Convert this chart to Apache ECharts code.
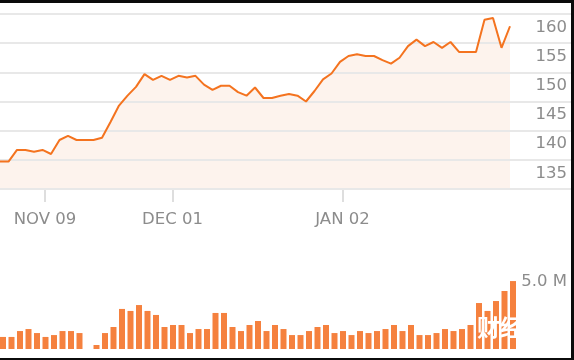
<!DOCTYPE html>
<html>
<head>
<meta charset="utf-8">
<script src="https://cdn.jsdelivr.net/npm/echarts@6/dist/echarts.min.js"></script>
<style>
html,body{margin:0;padding:0;background:#fff;}
#chart{width:574px;height:360px;}
</style>
</head>
<body>
<div id="chart"></div>
<script>
// Trading days shown on the chart
var dates = [
  '2023-11-02','2023-11-03','2023-11-06','2023-11-07','2023-11-08','2023-11-09','2023-11-10',
  '2023-11-13','2023-11-14','2023-11-15','2023-11-16','2023-11-17','2023-11-20','2023-11-21',
  '2023-11-22','2023-11-24','2023-11-27','2023-11-28','2023-11-29','2023-11-30','2023-12-01',
  '2023-12-04','2023-12-05','2023-12-06','2023-12-07','2023-12-08','2023-12-11','2023-12-12',
  '2023-12-13','2023-12-14','2023-12-15','2023-12-18','2023-12-19','2023-12-20','2023-12-21',
  '2023-12-22','2023-12-26','2023-12-27','2023-12-28','2023-12-29','2024-01-02','2024-01-03',
  '2024-01-04','2024-01-05','2024-01-08','2024-01-09','2024-01-10','2024-01-11','2024-01-12',
  '2024-01-16','2024-01-17','2024-01-18','2024-01-19','2024-01-22','2024-01-23','2024-01-24',
  '2024-01-25','2024-01-26','2024-01-29','2024-01-30','2024-01-31'
];
// Closing price
var prices = [
  134.7,134.7,136.7,136.7,136.4,136.7,136.0,138.4,139.1,138.4,
  138.4,138.4,138.8,141.5,144.3,146.0,147.5,149.7,148.7,149.4,
  148.7,149.4,149.1,149.4,147.9,147.0,147.7,147.7,146.6,146.0,
  147.4,145.6,145.6,146.0,146.3,146.0,145.0,146.8,148.8,149.8,
  151.8,152.8,153.1,152.8,152.8,152.1,151.5,152.5,154.5,155.6,
  154.5,155.2,154.2,155.2,153.5,153.5,153.5,159.0,159.3,154.2,
  157.9
];
// Volume, millions of shares
var volumes = [
  0.90,0.90,1.34,1.49,1.19,0.90,1.04,1.34,1.34,1.19,
  null,0.30,1.19,1.64,2.99,2.84,3.28,2.84,2.54,1.64,
  1.79,1.79,1.19,1.49,1.49,2.69,2.69,1.64,1.34,1.79,
  2.09,1.34,1.79,1.49,1.04,1.04,1.34,1.64,1.79,1.19,
  1.34,1.04,1.34,1.19,1.34,1.49,1.79,1.34,1.79,1.04,
  1.04,1.19,1.49,1.34,1.49,1.79,3.43,2.84,3.58,4.33,
  5.07
];
var tickDates = ['2023-11-09','2023-12-01','2024-01-02'];
var priceTicks = [130, 135, 140, 145, 150, 155, 160];
var volumeTick = 5.0;
var monthNames = ['JAN','FEB','MAR','APR','MAY','JUN','JUL','AUG','SEP','OCT','NOV','DEC'];

var FONT = 'DejaVu Sans';
var GRAY = '#8c8c8c';
var isTick = function (idx, val) { return tickDates.indexOf(val) >= 0; };

var chart = echarts.init(document.getElementById('chart'), null, {renderer: 'canvas'});
chart.setOption({
  animation: false,
  backgroundColor: '#ffffff',
  textStyle: {fontFamily: FONT},
  grid: [
    {left: 0, width: 510, top: 14, bottom: 171},          // price
    {left: 0, right: 0, top: 14, bottom: 171},            // full-width gridlines + labels
    {left: 3, width: 510, top: 282, bottom: 11},          // volume
    {left: 2.5, width: 510, top: 14, bottom: 171}         // date ticks + labels
  ],
  xAxis: [
    {gridIndex: 0, type: 'category', data: dates, boundaryGap: false, show: false},
    {gridIndex: 1, type: 'value', show: false},
    {gridIndex: 2, type: 'category', data: dates, boundaryGap: false, show: false},
    {
      gridIndex: 3, type: 'category', data: dates, boundaryGap: false,
      axisLine: {show: false},
      axisTick: {show: true, interval: isTick, length: 13, lineStyle: {color: '#dedede', width: 2}},
      axisLabel: {
        interval: isTick, margin: 22, color: GRAY, fontSize: 16.5, fontFamily: FONT,
        formatter: function (v) {
          var p = v.split('-');
          return monthNames[parseInt(p[1], 10) - 1] + ' ' + p[2];
        }
      },
      splitLine: {show: false}
    }
  ],
  yAxis: [
    {gridIndex: 0, type: 'value', min: priceTicks[0], max: priceTicks[priceTicks.length - 1],
     interval: 5, show: false},
    {
      gridIndex: 1, type: 'value', position: 'right', z: 3,
      min: priceTicks[0], max: priceTicks[priceTicks.length - 1], interval: 5,
      axisLine: {show: false}, axisTick: {show: false},
      splitLine: {show: true, lineStyle: {color: '#e8e8e8', width: 2}},
      axisLabel: {
        inside: true, margin: 7, color: GRAY, fontSize: 16.5, fontFamily: FONT,
        verticalAlign: 'top', padding: [5, 0, 0, 0],
        formatter: function (v) { return v === priceTicks[0] ? '' : String(v); }
      }
    },
    {
      gridIndex: 2, type: 'value', position: 'right', min: 0, max: volumeTick, interval: volumeTick,
      axisLine: {show: false}, axisTick: {show: false}, splitLine: {show: false},
      axisLabel: {
        align: 'right', margin: 54, color: GRAY, fontSize: 16.5, fontFamily: FONT,
        padding: [3, 0, 0, 0],
        formatter: function (v) { return v === volumeTick ? volumeTick.toFixed(1) + ' M' : ''; }
      }
    },
    {gridIndex: 3, type: 'value', show: false}
  ],
  series: [
    {
      type: 'line', xAxisIndex: 0, yAxisIndex: 0, data: prices, z: 1,
      showSymbol: false, silent: true,
      lineStyle: {width: 0, opacity: 0},
      areaStyle: {origin: 'start', color: 'rgba(230,100,20,0.115)'}
    },
    {
      type: 'line', xAxisIndex: 0, yAxisIndex: 0, data: prices, z: 5,
      showSymbol: false, silent: true,
      lineStyle: {color: '#f4731f', width: 2}
    },
    {
      type: 'bar', xAxisIndex: 2, yAxisIndex: 2, data: volumes, barWidth: 6,
      clip: false, silent: true, itemStyle: {color: '#f5813e'}
    }
  ],
  graphic: [
    {type: 'text', left: 477, top: 316, z: 50, silent: true,
     style: {text: '财经', fill: '#ffffff', font: 'bold 23px "Noto Sans CJK SC"'}},
    {type: 'rect', shape: {x: 0, y: 0, width: 574, height: 3}, style: {fill: '#0b0b0b'}, z: 100, silent: true},
    {type: 'rect', shape: {x: 571, y: 0, width: 3, height: 360}, style: {fill: '#0b0b0b'}, z: 100, silent: true},
    {type: 'rect', shape: {x: 0, y: 358, width: 574, height: 2}, style: {fill: '#0b0b0b'}, z: 100, silent: true}
  ]
});
</script>
</body>
</html>
